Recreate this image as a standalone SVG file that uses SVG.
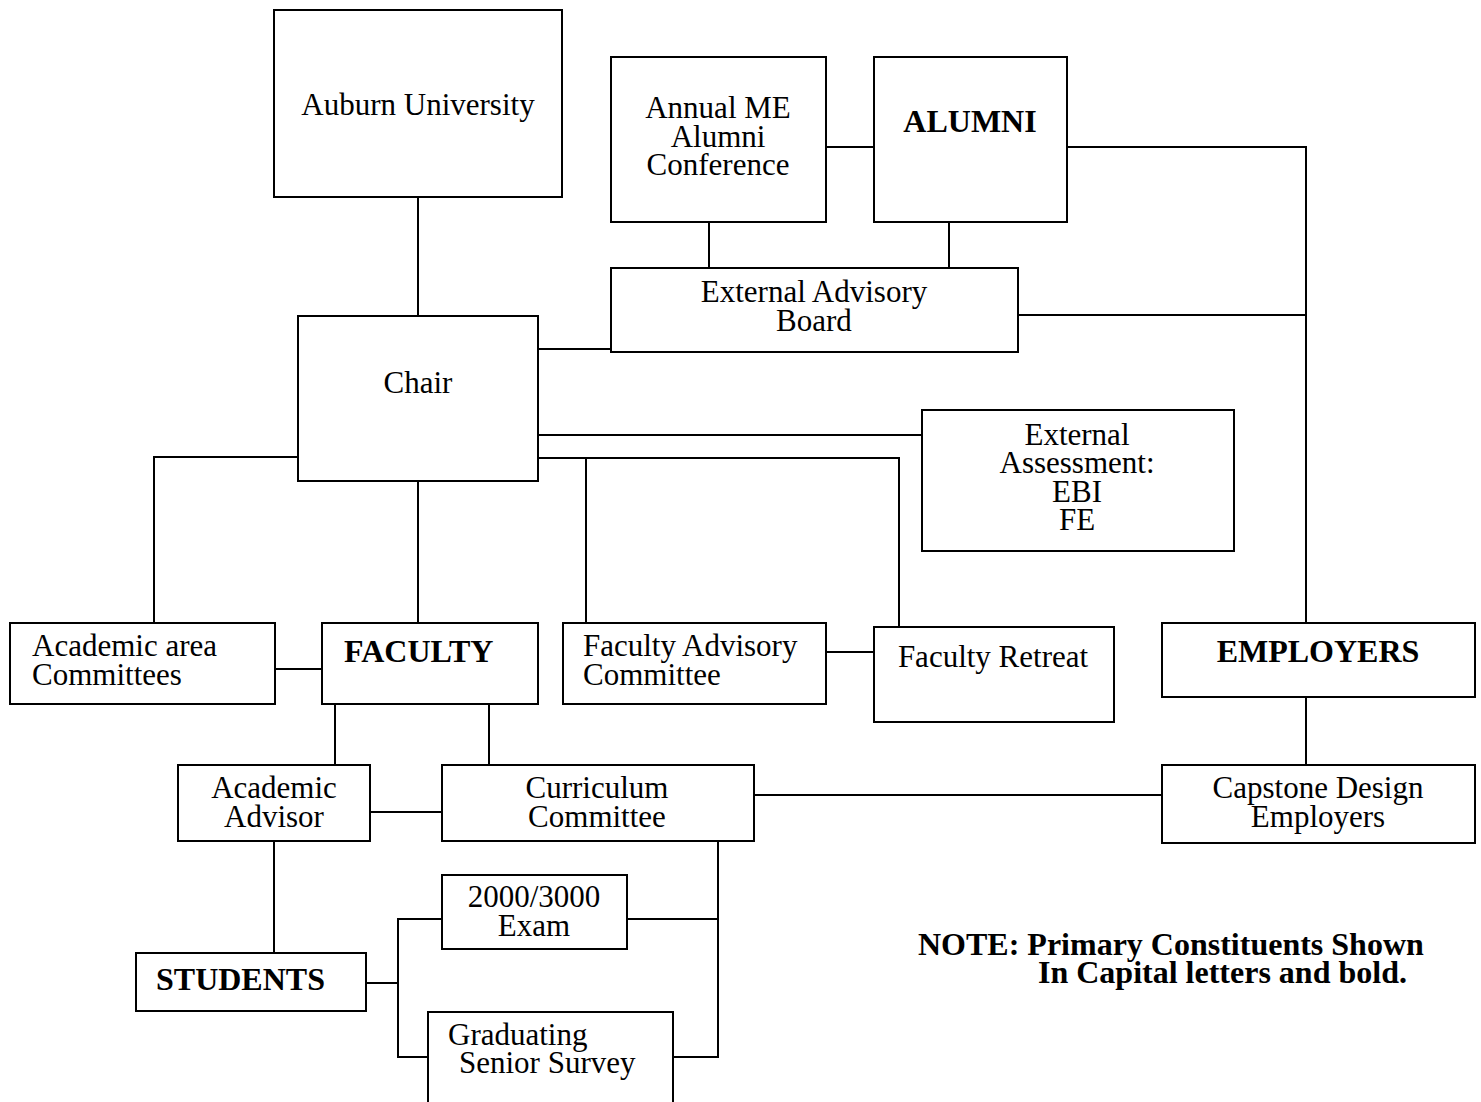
<svg xmlns="http://www.w3.org/2000/svg" width="1481" height="1102" viewBox="0 0 1481 1102">
<style>
.box{fill:#fff;stroke:#000;stroke-width:2}
.ln{fill:none;stroke:#000;stroke-width:2}
text{font-family:"Liberation Serif","Times New Roman",serif;font-size:31px;fill:#000}
.c{text-anchor:middle}
.b{font-weight:bold;font-size:32px}
</style>
<rect width="1481" height="1102" fill="#fff"/>
<g id="connectors">
<path class="ln" d="M418,197V316"/>
<path class="ln" d="M826,147H874"/>
<path class="ln" d="M1067,147H1306V623"/>
<path class="ln" d="M1018,315H1306"/>
<path class="ln" d="M709,222V268"/>
<path class="ln" d="M949,222V268"/>
<path class="ln" d="M538,349H611"/>
<path class="ln" d="M538,435H922"/>
<path class="ln" d="M538,458H899V627"/>
<path class="ln" d="M586,458V623"/>
<path class="ln" d="M298,457H154V623"/>
<path class="ln" d="M418,481V623"/>
<path class="ln" d="M275,669H322"/>
<path class="ln" d="M826,652H874"/>
<path class="ln" d="M1306,697V765"/>
<path class="ln" d="M335,704V765"/>
<path class="ln" d="M489,704V765"/>
<path class="ln" d="M370,812H442"/>
<path class="ln" d="M754,795H1162"/>
<path class="ln" d="M274,841V953"/>
<path class="ln" d="M366,983H398"/>
<path class="ln" d="M442,919H398V1057H428"/>
<path class="ln" d="M718,841V1057H673"/>
<path class="ln" d="M627,919H718"/>
</g>
<g id="auburn"><rect class="box" x="274" y="10" width="288" height="187"/><text class="c" x="418" y="115">Auburn University</text></g>
<g id="annual"><rect class="box" x="611" y="57" width="215" height="165"/><text class="c" x="718" y="118">Annual ME</text><text class="c" x="718" y="147">Alumni</text><text class="c" x="718" y="175">Conference</text></g>
<g id="alumni"><rect class="box" x="874" y="57" width="193" height="165"/><text class="c b" x="970" y="132">ALUMNI</text></g>
<g id="eab"><rect class="box" x="611" y="268" width="407" height="84"/><text class="c" x="814" y="302">External Advisory</text><text class="c" x="814" y="331">Board</text></g>
<g id="chair"><rect class="box" x="298" y="316" width="240" height="165"/><text class="c" x="418" y="393">Chair</text></g>
<g id="extassess"><rect class="box" x="922" y="410" width="312" height="141"/><text class="c" x="1077" y="445">External</text><text class="c" x="1077" y="473">Assessment:</text><text class="c" x="1077" y="502">EBI</text><text class="c" x="1077" y="530">FE</text></g>
<g id="academicarea"><rect class="box" x="10" y="623" width="265" height="81"/><text x="32" y="656">Academic area</text><text x="32" y="685">Committees</text></g>
<g id="faculty"><rect class="box" x="322" y="623" width="216" height="81"/><text class="b" x="344" y="662">FACULTY</text></g>
<g id="fac"><rect class="box" x="563" y="623" width="263" height="81"/><text x="583" y="656">Faculty Advisory</text><text x="583" y="685">Committee</text></g>
<g id="retreat"><rect class="box" x="874" y="627" width="240" height="95"/><text class="c" x="993" y="667">Faculty Retreat</text></g>
<g id="employers"><rect class="box" x="1162" y="623" width="313" height="74"/><text class="c b" x="1318" y="662">EMPLOYERS</text></g>
<g id="advisor"><rect class="box" x="178" y="765" width="192" height="76"/><text class="c" x="274" y="798">Academic</text><text class="c" x="274" y="827">Advisor</text></g>
<g id="curriculum"><rect class="box" x="442" y="765" width="312" height="76"/><text class="c" x="597" y="798">Curriculum</text><text class="c" x="597" y="827">Committee</text></g>
<g id="capstone"><rect class="box" x="1162" y="765" width="313" height="78"/><text class="c" x="1318" y="798">Capstone Design</text><text class="c" x="1318" y="827">Employers</text></g>
<g id="exam"><rect class="box" x="442" y="875" width="185" height="74"/><text class="c" x="534" y="907">2000/3000</text><text class="c" x="534" y="936">Exam</text></g>
<g id="students"><rect class="box" x="136" y="953" width="230" height="58"/><text class="b" x="156" y="990">STUDENTS</text></g>
<g id="survey"><rect class="box" x="428" y="1012" width="245" height="100"/><text x="448" y="1045">Graduating</text><text x="459" y="1073">Senior Survey</text></g>
<g id="note"><text class="b" x="918" y="955">NOTE: Primary Constituents Shown</text><text class="b" x="1038" y="983">In Capital letters and bold.</text></g>
</svg>
